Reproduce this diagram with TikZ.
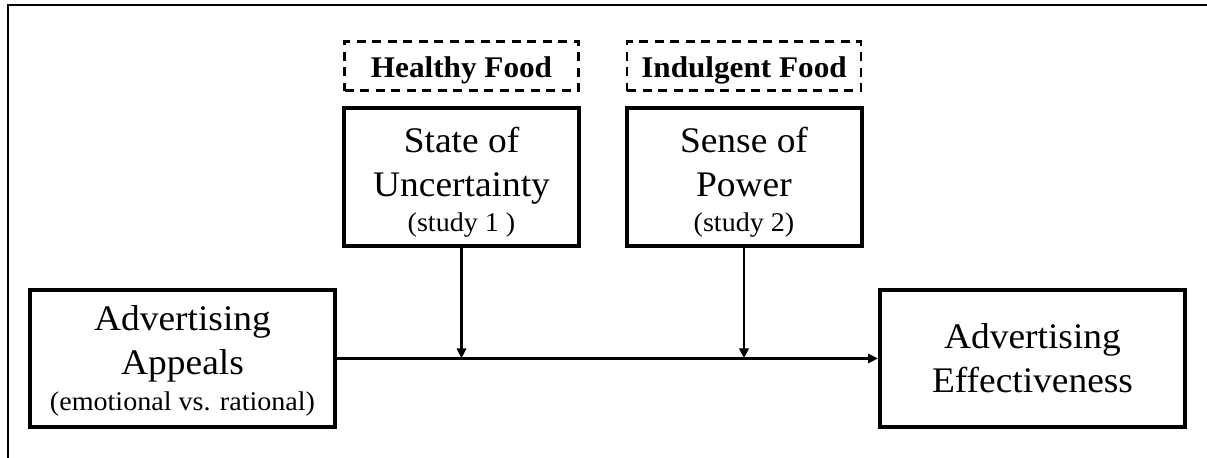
\documentclass[tikz,border=0pt]{standalone}
\usepackage{fontspec}
\setmainfont{Liberation Serif}[FakeStretch=1.04]
\usetikzlibrary{positioning, arrows.meta}
\tikzset{
>={Triangle[length=5pt, width=4.5pt]}, % small filled arrow heads
varbox/.style={draw, line width=2pt, align=center, inner sep=0pt, minimum width=152.5pt, minimum height=68.5pt, font=\fontsize{18pt}{22pt}\selectfont}, % the two main variables
modbox/.style={varbox, minimum width=117.5pt, minimum height=69pt}, % the moderators
foodbox/.style={draw, line width=1.3pt, dash pattern=on 4.5pt off 3.25pt, minimum width=117pt, minimum height=24.5pt, inner sep=0pt, font=\fontsize{15pt}{17pt}\selectfont\bfseries}, % the food types
}

\begin{document}
\begin{tikzpicture}[x=0.5pt, y=-0.5pt]
            \useasboundingbox (0,0) rectangle (1207,458);
            \draw[line width=1.2pt] (1207,5) -- (8,5) -- (8,458);
            \node[varbox] (appeals) at (182.5,358.5) {\rule{0pt}{15.3pt}Advertising\\Appeals\\[-4pt]{\fontsize{13.5pt}{15pt}\selectfont (emotional vs. rational)}};
            \node[varbox] (effect) at (1032.5,358.5) {Advertising\\Effectiveness};
            \node[modbox] (uncert) at (461.5,177) {\rule{0pt}{17.5pt}State of\\Uncertainty\\[-4.5pt]{\fontsize{13.5pt}{15pt}\selectfont (study 1 )}};
            \node[modbox] (power) at (744,177) {\rule{0pt}{17.5pt}Sense of\\Power\\[-4.5pt]{\fontsize{13.5pt}{15pt}\selectfont (study 2)}};
            \node[foodbox, above=7pt of uncert] (healthy) {\rule{0pt}{14.4pt}Healthy Food};
            \node[foodbox, above=7pt of power] (indulgent) {\rule{0pt}{14.4pt}Indulgent Food};
            \draw[->, line width=1.8pt] (appeals) -- (effect);
            \draw[->, line width=1.3pt] (uncert) -- (uncert |- appeals);
            \draw[->, line width=1.3pt] (power) -- (power |- appeals);
        \end{tikzpicture}
\end{document}
